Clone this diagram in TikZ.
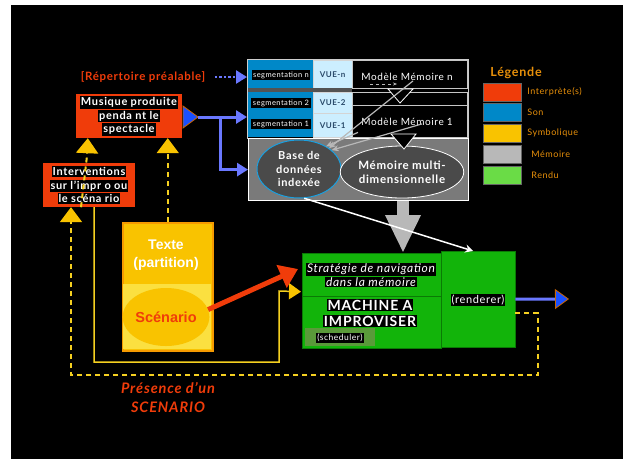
\documentclass[tikz,border=0pt]{standalone}
\usepackage{fontspec}
\setmainfont{Lato}[LetterSpace=6]
\newfontfamily\arialfont{Liberation Sans}
\usetikzlibrary{arrows.meta,positioning,shapes.geometric,calc}

\definecolor{rouge}{HTML}{F03C0A}
\definecolor{bleuson}{HTML}{0088C8}
\definecolor{bleuvue}{HTML}{CCEEFF}
\definecolor{vuetexte}{HTML}{2A4A6A}
\definecolor{bleuclair}{HTML}{1AA0E0}
\definecolor{pervenche}{HTML}{6A78FF}
\definecolor{bleuvif}{HTML}{1A50FF}
\definecolor{jaune}{HTML}{F9C300}
\definecolor{jauneclair}{HTML}{FBE040}
\definecolor{jaunetrait}{HTML}{F5D020}
\definecolor{orangebord}{HTML}{F59A00}
\definecolor{gris}{HTML}{B8B8B8}
\definecolor{grispanel}{HTML}{7A7A7A}
\definecolor{grisfonce}{HTML}{4A4A4A}
\definecolor{vert}{HTML}{12B40A}
\definecolor{vertfonce}{HTML}{0A7A05}
\definecolor{vertpale}{HTML}{5A9A3A}
\definecolor{vertclair}{HTML}{6ADC46}
\definecolor{legorange}{HTML}{E8900A}

\newcommand{\surnoir}[1]{{\setlength{\fboxsep}{1pt}\colorbox{black}{#1}}}
\newcommand{\corps}[2]{\fontsize{#1}{#2}\selectfont}

\tikzset{
  boiterouge/.style={fill=rouge, inner sep=0pt, align=center, text=white,
    font=\bfseries\corps{11}{13.5}},
  cellbleue/.style={fill=bleuson, inner sep=0pt, anchor=north west},
  cellvue/.style={fill=bleuvue, draw=gris!60, inner sep=0pt, anchor=north west,
    text=vuetexte, font=\bfseries\corps{8}{9}},
  segtxt/.style={fill=black, text=white, inner sep=1.5pt, font=\corps{7.5}{8}},
  modele/.style={fill=black, draw=gris!80, inner sep=0pt, anchor=north west},
  modtxt/.style={text=white, inner sep=0pt, font=\corps{10}{11}},
  bulle/.style={ellipse, fill=grisfonce, inner sep=0pt, align=center, text=white,
    font=\bfseries\corps{11}{13.5}},
  vertbox/.style={fill=vert, draw=vertfonce, inner sep=0pt, anchor=north west},
  etiquette/.style={text=white, align=center, inner sep=0pt},
  legcase/.style={draw=black!60, minimum width=38pt, minimum height=18pt, inner sep=0pt},
  leglabel/.style={text=legorange, anchor=west, inner sep=0pt, font=\corps{9}{10}},
  fleche bleue/.style={pervenche, line width=3pt, -{Triangle[width=13pt,length=11pt]}},
  fleche grise/.style={gris, line width=1.2pt, -{Stealth[length=7pt,width=6pt]}},
  tiret jaune/.style={jaunetrait, line width=2pt, dash pattern=on 5pt off 4pt},
  pointe jaune/.style={-{Triangle[width=22pt,length=15pt,color=jaune]}}
}

\begin{document}
\begin{tikzpicture}[x=1pt,y=-1pt]

    % Fond
    \useasboundingbox (0,0) rectangle (623,459);
    \fill[white] (0,0) rectangle (623,459);
    \fill[black] (11,5) rectangle (623,459);

    % Segmentations et vues
    \node[cellbleue, minimum width=66pt, minimum height=28pt] (bleu1) at (247,60) {};
    \node[segtxt] (segn) at (281,75) {segmentation n};
    \node[cellvue, minimum width=39pt, minimum height=28pt] (vuen) at (313,60) {VUE-n};
    \node[modele, minimum width=115pt, minimum height=28pt] (modn) at (352,60) {};
    \node[modtxt] (modntxt) at (407,77) {Modèle Mémoire n};
    \fill[gris!45!black] (247,88) rectangle (352,92);
    \node[cellbleue, minimum width=66pt, minimum height=45pt] (bleu2) at (247,92) {};
    \node[segtxt] (seg2) at (281,103) {segmentation 2};
    \node[segtxt] (seg1) at (281,124) {segmentation 1};
    \node[cellvue, minimum width=39pt, minimum height=21pt] (vue2) at (313,92) {VUE-2};
    \node[cellvue, minimum width=39pt, minimum height=24pt] (vue1) at (313,113) {VUE-1};
    \node[modele, minimum width=115pt, minimum height=13pt] (modsep) at (352,92) {};
    \node[modele, minimum width=115pt, minimum height=32pt] (mod1) at (352,105) {};
    \node[modtxt] (mod1txt) at (407,122) {Modèle Mémoire 1};
    \draw[gris!70, line width=0.6pt] (247,59) rectangle (468,138);
    \draw[gris, dashed, -{Stealth[length=4pt]}] (370,84) -- (397,84);

    % Memoire
    \node[fill=grispanel, draw=white, line width=1.2pt, minimum width=220pt,
      minimum height=62pt, anchor=north west, inner sep=0pt] (panel) at (248,138) {};
    \node[bulle, draw=bleuclair, line width=1pt, minimum width=84pt,
      minimum height=58pt] (base) at (299,169) {Base de\\données\\indexée};
    \node[bulle, draw=white, line width=0.8pt, minimum width=108pt,
      minimum height=52pt, font=\bfseries\corps{11.5}{14}] (multi) at (402,172)
      {Mémoire multi-\\dimensionnelle};
    \draw[white, fill=black, line width=0.8pt] (388,89) -- (413,89) -- (400,103) -- cycle;
    \draw[white, fill=black, line width=0.8pt] (391,134) -- (416,134) -- (404,149) -- cycle;
    \draw[fleche grise] ($(modntxt.south)+(6,0)$) -- (base.north east);
    \draw[fleche grise] ($(mod1txt.south)+(15,-2)$) -- (base.30);
    \draw[fleche grise] ($(mod1.south west)+(6,-5)$) -- (base.40);

    % Interpretes
    \node[font=\bfseries\corps{11.5}{12}, text=rouge] (rep) at (143,77) {[Répertoire préalable]};
    \node[boiterouge, minimum width=106pt, minimum height=44pt] (musique) at (129,116)
      {\surnoir{Musique produite}\\\surnoir{penda nt le}\\\surnoir{spectacle}};
    \node[boiterouge, minimum width=92pt, minimum height=44pt] (interv) at (89,185)
      {\surnoir{Interventions}\\\surnoir{sur l’impr o ou}\\\surnoir{le scéna rio}};
    \coordinate (mtip) at (198,117);
    \draw[orange!80!black, fill=bleuvif, line width=0.8pt] (183,106) -- (mtip) -- (183,128) -- cycle;
    \coordinate (emb) at (220,117);
    \draw[fleche bleue] (mtip) -- (mtip -| bleu2.west);
    \draw[fleche bleue] (emb) |- (panel.west);
    \draw[pervenche, line width=2.5pt, dotted, -{Triangle[width=13pt,length=11pt]}]
      ($(rep.east)+(6,0)$) -- (rep.east -| bleu1.west);

    % Texte
    \node[fill=jaune, draw=orangebord, line width=1.5pt, minimum width=90pt,
      minimum height=128pt, anchor=north west, inner sep=0pt] (texte) at (122,222) {};
    \fill[jauneclair] (123,284) rectangle (211,349);
    \node[ellipse, fill=jaune, minimum width=84pt, minimum height=58pt, inner sep=0pt,
      text=rouge, font=\arialfont\bfseries\corps{14.5}{16}] (scen) at (166,317) {Scénario};
    \node[text=white, align=center, font=\arialfont\bfseries\corps{14}{18}] (part)
      at (166,255) {Texte\\(partition)};

    % Machine
    \node[vertbox, minimum width=139pt, minimum height=95pt] (machine) at (302,253) {};
    \node[vertbox, minimum width=74pt, minimum height=96pt] (rend) at (441,251) {};
    \draw[vertfonce, line width=1pt] ($(machine.north west)+(0,43)$) -- ($(machine.north east)+(0,43)$);
    \fill[vertpale] (305,328) rectangle (375,346);
    \node[etiquette, font=\itshape\corps{12}{13}] (strat) at (371,275)
      {\surnoir{Stratégie de navigation}\\\surnoir{dans la mémoire}};
    \node[etiquette, font=\bfseries\corps{14}{16}] (mach) at (370,313)
      {\surnoir{MACHINE A}\\\surnoir{IMPROVISER}};
    \node[etiquette, font=\corps{8.5}{9}] (sched) at (340,338) {\surnoir{(scheduler)}};
    \node[etiquette, font=\corps{11}{12}] (render) at (478,300) {\surnoir{(renderer)}};

    % Liaisons
    \coordinate (gf) at (403,0);
    \draw[gris, line width=12pt, -{Triangle[width=33pt,length=38pt]}]
      (panel.south -| gf) -- (machine.north -| gf);
    \draw[white, line width=1.5pt, -{Stealth[length=8pt,width=8pt]}]
      (base.-80) -- ([xshift=-5pt]rend.north);
    \draw[rouge, line width=5pt, -{Triangle[width=24pt,length=18pt]}]
      (scen.10) -- ($(machine.north west)+(-4,16)$);
    \draw[pervenche, line width=3pt,
      -{Triangle[width=20pt,length=14pt,line width=0.8pt,color=orange!80!black,fill=bleuvif]}]
      (rend.east) -- (569,299);
    \draw[jaunetrait, line width=1.5pt, -{Triangle[width=16pt,length=12pt,color=jaune]}]
      ([xshift=5pt]interv.south) |- (279,362) -- (279,291) -- ($(machine.west)+(-1,-9)$);
    \draw[tiret jaune, pointe jaune] (texte.north) -- (texte.north |- musique.south);
    \draw[tiret jaune, pointe jaune] ([xshift=-8pt]interv.south) -- (87,156)
      -- ($(musique.south west)+(12,0)$);
    \draw[tiret jaune, pointe jaune] ($(rend.east)+(0,14)$) -| (538,375)
      -| ([xshift=-18pt]interv.south);

    % Legende
    \node[font=\bfseries\corps{12.5}{13}, text=legorange] (leg) at (516,73) {Légende};
    \foreach \c/\y/\t/\dx in {rouge/92/Interprète(s)/0, bleuson/112/Son/0,
        jaune/133/Symbolique/0, gris/154/Mémoire/4, vertclair/175/Rendu/4}
    {
        \node[legcase, fill=\c] (case\y) at (502,\y) {};
        \node[leglabel] at ($(case\y.east)+(6+\dx,0)$) {\t};
    }

    % Scenario
    \node[align=center, text=rouge, font=\bfseries\itshape\corps{14.5}{19}] (pres)
      at (168,398) {Présence d’un\\SCENARIO};

\end{tikzpicture}
\end{document}
